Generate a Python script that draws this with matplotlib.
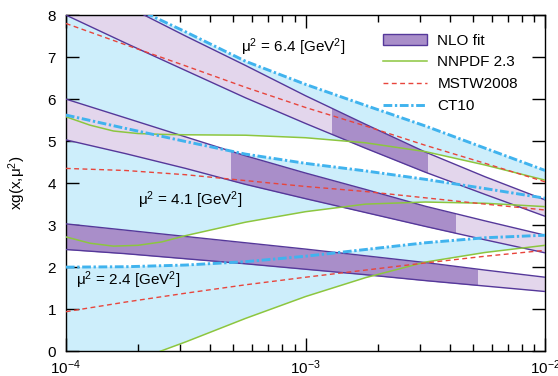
import numpy as np
import matplotlib.pyplot as plt
from matplotlib.patches import Patch, Rectangle
from matplotlib.lines import Line2D
from matplotlib.ticker import MultipleLocator

plt.rcParams['font.family'] = ['Liberation Sans', 'DejaVu Sans']
plt.rcParams['mathtext.fontset'] = 'custom'
plt.rcParams['mathtext.rm'] = 'Liberation Sans'
plt.rcParams['mathtext.it'] = 'Liberation Sans:italic'
plt.rcParams['mathtext.default'] = 'regular'

# x sampling (4 points per decade)
x = [1.0e-4, 1.78e-4, 3.16e-4, 5.62e-4, 1.0e-3, 1.78e-3, 3.16e-3, 5.62e-3, 1.0e-2]
# finer sampling for the NNPDF curves (they bend at small x)
x_nn = [1.0e-4, 1.26e-4, 1.58e-4, 2.0e-4, 2.51e-4, 3.16e-4,
        5.62e-4, 1.0e-3, 1.78e-3, 3.16e-3, 5.62e-3, 1.0e-2]

# mu^2 = 6.4
nlo_hi_64 = [9.0, 8.22, 7.5, 6.8, 6.08, 5.4, 4.74, 4.15, 3.6]
nlo_lo_64 = [8.0, 7.33, 6.68, 6.03, 5.42, 4.83, 4.26, 3.73, 3.21]
ct10_64 = [8.9, 8.27, 7.6, 6.9, 6.35, 5.85, 5.36, 4.83, 4.3]
mstw_64 = [7.8, 7.29, 6.79, 6.28, 5.8, 5.36, 4.9, 4.47, 4.03]
nnpdf_64 = [5.58, 5.38, 5.24, 5.18, 5.16, 5.15, 5.14, 5.08, 4.96, 4.75, 4.43, 4.07]
dark_64 = (1.29e-3, 3.2e-3)

# mu^2 = 4.1
nlo_hi_41 = [6.0, 5.55, 5.1, 4.65, 4.24, 3.85, 3.45, 3.1, 2.76]
nlo_lo_41 = [5.03, 4.7, 4.35, 3.97, 3.63, 3.3, 2.97, 2.65, 2.34]
ct10_41 = [5.62, 5.3, 4.99, 4.69, 4.47, 4.29, 4.09, 3.87, 3.64]
mstw_41 = [4.35, 4.3, 4.2, 4.06, 3.92, 3.8, 3.65, 3.5, 3.36]
nnpdf_41 = [2.72, 2.57, 2.5, 2.52, 2.6, 2.75, 3.07, 3.32, 3.5, 3.55, 3.52, 3.44]
dark_41 = (4.9e-4, 4.2e-3)

# mu^2 = 2.4
nlo_hi_24 = [3.03, 2.88, 2.73, 2.58, 2.43, 2.27, 2.11, 1.93, 1.76]
nlo_lo_24 = [2.42, 2.32, 2.2, 2.08, 1.95, 1.82, 1.68, 1.55, 1.42]
ct10_24 = [2.0, 2.01, 2.05, 2.13, 2.26, 2.42, 2.58, 2.7, 2.76]
mstw_24 = [0.94, 1.17, 1.38, 1.58, 1.76, 1.93, 2.1, 2.26, 2.4]
nnpdf_24 = [-0.85, -0.64, -0.43, -0.2, 0.01, 0.22, 0.78, 1.3, 1.75, 2.12, 2.35, 2.52]
dark_24 = (1.0e-4, 5.2e-3)

BLUE_FILL = '#cdeefb'
BLUE = '#40b3ee'
LIGHT = '#e3d6ec'
DARK = '#a98ec9'
EDGE = '#55389a'
GREEN = '#8cc63f'
RED = '#e8453c'
CT_LS = (0, (3.0, 0.9, 0.8, 0.9))
MS_LS = (0, (3.5, 2.5))

fig = plt.figure(figsize=(5.58, 3.76), dpi=100)
ax = fig.add_axes([0.118, 0.066, 0.859, 0.894])
ax.set_xscale('log')

sets = [
    (ct10_64, nnpdf_64, mstw_64, nlo_lo_64, nlo_hi_64, dark_64),
    (ct10_41, nnpdf_41, mstw_41, nlo_lo_41, nlo_hi_41, dark_41),
    (ct10_24, nnpdf_24, mstw_24, nlo_lo_24, nlo_hi_24, dark_24),
]

for ct, nn, mstw, lo, hi, (d0, d1) in sets:
    # CT10 band (upper edge drawn, lower edge follows the NNPDF curve)
    ax.fill(x + x_nn[::-1], ct + nn[::-1], color=BLUE_FILL, lw=0, zorder=1)
    # NLO fit band: light everywhere, dark where constrained by data
    ax.fill_between(x, lo, hi, color=LIGHT, lw=0, zorder=2)
    dk = ax.fill_between(x, lo, hi, color=DARK, lw=0, zorder=2.1)
    dk.set_clip_path(Rectangle((d0, 0), d1 - d0, 8, transform=ax.transData))
    ax.plot(x, lo, color=EDGE, lw=1, zorder=3)
    ax.plot(x, hi, color=EDGE, lw=1, zorder=3)
    ax.plot(x_nn, nn, color=GREEN, lw=1.1, zorder=4)
    ax.plot(x, mstw, color=RED, lw=1, ls=MS_LS, zorder=4)
    ax.plot(x, ct, color=BLUE, lw=2.1, ls=CT_LS, zorder=4)

lab = 'μ$^2$ = {} [GeV$^2$]'
ax.text(5.4e-4, 7.24, lab.format('6.4'), fontsize=11, va='center', zorder=5)
ax.text(2.0e-4, 3.6, lab.format('4.1'), fontsize=11, va='center', zorder=5)
ax.text(1.1e-4, 1.69, lab.format('2.4'), fontsize=11, va='center', zorder=5)

ax.set_xlim(1e-4, 1e-2)
ax.set_ylim(0, 8)
ax.yaxis.set_major_locator(MultipleLocator(1))
ax.tick_params(which='both', direction='in', top=True, right=True, width=1)
ax.tick_params(which='major', length=9.5, labelsize=11)
ax.tick_params(which='minor', length=5)
ax.tick_params(axis='x', pad=5)
ax.tick_params(axis='y', pad=7)
for s in ax.spines.values():
    s.set_linewidth(1)

ax.set_ylabel('xg(x,μ$^2$)', fontsize=11)
ax.yaxis.set_label_coords(-0.078, 0.5)

handles = [
    Patch(facecolor=DARK, edgecolor=EDGE, lw=1, label='NLO fit'),
    Line2D([], [], color=GREEN, lw=1.1, label='NNPDF 2.3'),
    Line2D([], [], color=RED, lw=1, ls=MS_LS, label='MSTW2008'),
    Line2D([], [], color=BLUE, lw=2.1, ls=CT_LS, label='CT10'),
]
ax.legend(handles=handles, loc='upper left', bbox_to_anchor=(0.662, 0.945),
          frameon=False, fontsize=11, handlelength=2.9, handletextpad=0.65,
          labelspacing=0.52, borderpad=0, borderaxespad=0)

fig.savefig('out.png', dpi=100)
